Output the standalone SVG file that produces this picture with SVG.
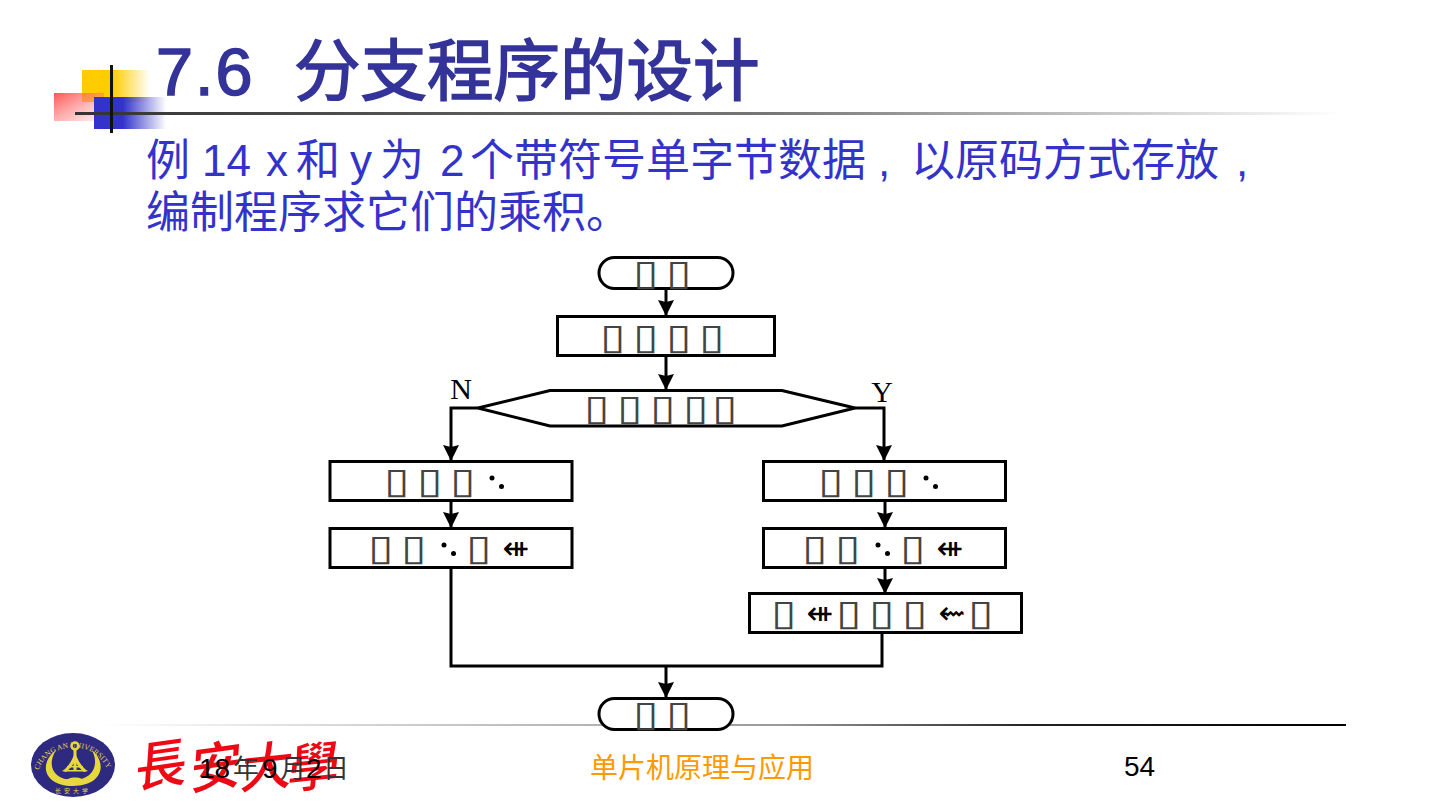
<svg xmlns="http://www.w3.org/2000/svg" width="1440" height="810" viewBox="0 0 1440 810">
<defs>
<linearGradient id="gy"><stop offset="0.45" stop-color="#ffcc00"/><stop offset="1" stop-color="#ffcc00" stop-opacity="0"/></linearGradient>
<linearGradient id="gr" x1="0" y1="0" x2="1" y2="1"><stop offset="0" stop-color="#ff5555"/><stop offset="1" stop-color="#ff9999" stop-opacity="0.15"/></linearGradient>
<linearGradient id="gb"><stop offset="0.4" stop-color="#3333cc"/><stop offset="1" stop-color="#3333cc" stop-opacity="0"/></linearGradient>
<linearGradient id="gl"><stop offset="0" stop-color="#333333"/><stop offset="0.55" stop-color="#777777"/><stop offset="1" stop-color="#ffffff"/></linearGradient>
<linearGradient id="gf"><stop offset="0" stop-color="#ffffff"/><stop offset="0.25" stop-color="#cccccc"/><stop offset="0.55" stop-color="#999999"/><stop offset="0.75" stop-color="#222222"/><stop offset="1" stop-color="#000000"/></linearGradient>
<marker id="arr" markerUnits="userSpaceOnUse" markerWidth="16" markerHeight="16" refX="16" refY="8" orient="auto"><path d="M0 0L16 8L0 16L2 8Z" fill="#000"/></marker>
<g id="dots"><circle cx="0" cy="0" r="2.5"/><circle cx="9.500" cy="8.500" r="2.500"/></g>
<path id="arcT" d="M38 772A36 32 0 0 1 108 772"/>
</defs>
<style>
.n{fill:#fff;stroke:#000;stroke-width:3}
.c{fill:none;stroke:#000;stroke-width:3}
.t{font-family:"DejaVu Sans",sans-serif;font-size:36px;fill:#444;text-anchor:middle}
.s{font-family:"DejaVu Sans",sans-serif;font-size:32px;fill:#000;text-anchor:middle}
.l{font-family:"Liberation Serif",serif;font-size:30px;fill:#000;text-anchor:middle}
.body{font-family:"Liberation Sans","Noto Sans CJK SC",sans-serif;font-size:44px;fill:#3333cc}
.foot{font-family:"Liberation Sans","Noto Sans CJK SC",sans-serif;font-size:28px}
.cal{font-family:"Noto Sans CJK TC",sans-serif;font-size:52px;font-weight:500;fill:#ee0a14;text-anchor:middle}
.y{fill:#e8d840}
</style>
<g id="deco">
<rect x="82" y="70" width="68" height="32" fill="url(#gy)"/>
<rect x="54" y="93" width="50" height="28" fill="url(#gr)"/>
<rect x="94" y="97" width="72" height="32" fill="url(#gb)"/>
<rect x="75" y="112" width="1265" height="3" fill="url(#gl)"/>
<rect x="110" y="65" width="3" height="68" fill="#111"/>
</g>
<text id="title" y="95" font-family="'Liberation Sans','Noto Sans CJK SC',sans-serif" font-size="66.500" fill="#333399" stroke="#333399" stroke-width="1.600"><tspan x="156" letter-spacing="2">7.6</tspan><tspan x="294">分支程序的设计</tspan></text>
<g id="body" class="body">
<text y="176"><tspan x="146">例</tspan><tspan x="202">14</tspan><tspan x="266">x</tspan><tspan x="296">和</tspan><tspan x="350">y</tspan><tspan x="380">为</tspan><tspan x="440">2</tspan><tspan x="470">个带符号单字节数据</tspan><tspan x="878">,</tspan><tspan x="911">以原码方式存放</tspan><tspan x="1236">,</tspan></text>
<text x="146" y="228">编制程序求它们的乘积。</text>
</g>
<g id="connectors">
<path class="c" d="M666 289V316" marker-end="url(#arr)"/>
<path class="c" d="M666 356V390" marker-end="url(#arr)"/>
<path class="c" d="M478 408H451V461" marker-end="url(#arr)"/>
<path class="c" d="M855 408H884V461" marker-end="url(#arr)"/>
<path class="c" d="M451 501V528" marker-end="url(#arr)"/>
<path class="c" d="M885 501V528" marker-end="url(#arr)"/>
<path class="c" d="M885 568V594" marker-end="url(#arr)"/>
<path class="c" d="M451 568V666H882V633"/>
<path class="c" d="M666 666V698" marker-end="url(#arr)"/>
</g>
<rect id="footline" x="100" y="724" width="1246" height="2" fill="url(#gf)"/>
<g id="start"><rect class="n" x="599" y="257.500" width="134" height="31" rx="15.500"/><text class="t" transform="translate(646 285) scale(1.3 1)">▯</text><text class="t" transform="translate(679 285) scale(1.3 1)">▯</text></g>
<g id="n1"><rect class="n" x="557.500" y="316.500" width="217" height="39"/><text class="t" transform="translate(613 349) scale(1.3 1)">▯</text><text class="t" transform="translate(646 349) scale(1.3 1)">▯</text><text class="t" transform="translate(679 349) scale(1.3 1)">▯</text><text class="t" transform="translate(712 349) scale(1.3 1)">▯</text></g>
<g id="cond"><path class="n" d="M478 408L550 390.500H782L855 408L782 426H550Z"/><text class="t" transform="translate(597 420) scale(1.3 1)">▯</text><text class="t" transform="translate(630 420) scale(1.3 1)">▯</text><text class="t" transform="translate(663 420) scale(1.3 1)">▯</text><text class="t" transform="translate(696 420) scale(1.3 1)">▯</text><text class="t" transform="translate(725 420) scale(1.3 1)">▯</text></g>
<g id="n2"><rect class="n" x="330" y="461.500" width="242" height="39"/><text class="t" transform="translate(397 493) scale(1.3 1)">▯</text><text class="t" transform="translate(430 493) scale(1.3 1)">▯</text><text class="t" transform="translate(463 493) scale(1.3 1)">▯</text><use href="#dots" x="492" y="478"/></g>
<g id="n3"><rect class="n" x="330" y="528.500" width="242" height="39"/><text class="t" transform="translate(381 560) scale(1.3 1)">▯</text><text class="t" transform="translate(414 560) scale(1.3 1)">▯</text><use href="#dots" x="444" y="545"/><text class="t" transform="translate(479 560) scale(1.3 1)">▯</text><text class="s" x="516" y="559">⇺</text></g>
<g id="n4"><rect class="n" x="763.500" y="461.500" width="242" height="39"/><text class="t" transform="translate(831 493) scale(1.3 1)">▯</text><text class="t" transform="translate(864 493) scale(1.3 1)">▯</text><text class="t" transform="translate(897 493) scale(1.3 1)">▯</text><use href="#dots" x="926" y="478"/></g>
<g id="n5"><rect class="n" x="763.500" y="528.500" width="242" height="39"/><text class="t" transform="translate(815 560) scale(1.3 1)">▯</text><text class="t" transform="translate(848 560) scale(1.3 1)">▯</text><use href="#dots" x="878" y="545"/><text class="t" transform="translate(913 560) scale(1.3 1)">▯</text><text class="s" x="950" y="559">⇺</text></g>
<g id="n6"><rect class="n" x="749.500" y="593.500" width="272" height="39"/><text class="t" transform="translate(784 625) scale(1.3 1)">▯</text><text class="s" x="820" y="624">⇺</text><text class="t" transform="translate(849 625) scale(1.3 1)">▯</text><text class="t" transform="translate(882 625) scale(1.3 1)">▯</text><text class="t" transform="translate(915 625) scale(1.3 1)">▯</text><text class="s" x="952" y="624">⇜</text><text class="t" transform="translate(981 625) scale(1.3 1)">▯</text></g>
<g id="end"><rect class="n" x="599" y="698.500" width="134" height="31" rx="15.500"/><text class="t" transform="translate(646 726) scale(1.3 1)">▯</text><text class="t" transform="translate(679 726) scale(1.3 1)">▯</text></g>
<text class="l" x="461" y="399">N</text>
<text class="l" x="882" y="402">Y</text>
<g id="logo">
<ellipse cx="73" cy="765" rx="42" ry="32" fill="#2e2a80"/>
<path d="M56 750C38 764 44 786 73 786C102 786 108 764 92 750C100 766 92 780 73 780C54 780 46 766 56 750Z" class="y"/>
<circle cx="75" cy="746" r="3.500" fill="none" stroke="#e8d840" stroke-width="2.500"/>
<rect x="73.500" y="748" width="3" height="22" class="y"/>
<path d="M62 771C68 768 72 760 75 753C78 760 82 768 88 771L84 772C80 769 77 765 75 761C73 765 70 769 66 772Z" class="y"/>
<rect x="67" y="766" width="16" height="1.500" class="y"/>
<rect x="65" y="770" width="20" height="1.500" class="y"/>
<path d="M65 782C66 776 84 776 85 782Z" class="y"/>
<text font-family="'Liberation Serif',serif" font-size="7.500" fill="#e8d840"><textPath href="#arcT" startOffset="2">CHANG AN UNIVERSITY</textPath></text>
<text x="73" y="793" font-family="'Noto Sans CJK SC',sans-serif" font-size="6" letter-spacing="3" fill="#e8d840" text-anchor="middle">长安大学</text>
<text class="cal" transform="translate(160 784) rotate(-8) skewX(-12)">長</text>
<text class="cal" transform="translate(215 786) rotate(-8) skewX(-12)">安</text>
<text class="cal" transform="translate(265 786) rotate(-6) skewX(-12)">大</text>
<text class="cal" transform="translate(312 786) rotate(-6) skewX(-12)">學</text>
</g>
<text class="foot" y="778" fill="#000"><tspan x="199">18</tspan><tspan x="233" font-size="26" fill="#333">年</tspan><tspan x="262">9</tspan><tspan x="280" font-size="26" fill="#333">月</tspan><tspan x="306">2</tspan><tspan x="323" font-size="26" fill="#333">日</tspan></text>
<text class="foot" x="590" y="778" fill="#ff9900">单片机原理与应用</text>
<text class="foot" x="1124" y="776" fill="#000">54</text>
</svg>
